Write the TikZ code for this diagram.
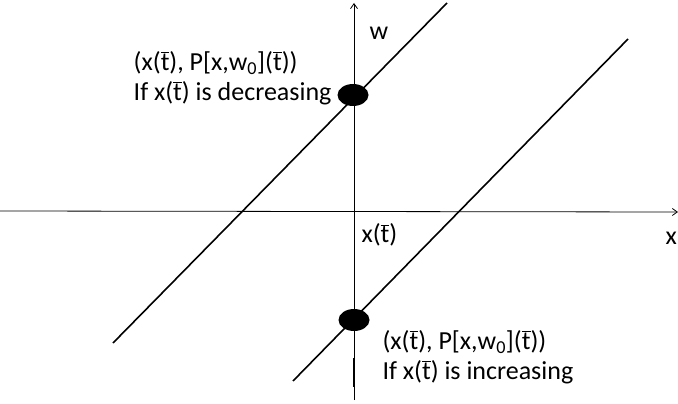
\documentclass[tikz,border=0pt]{standalone}
\usepackage{fontspec}
\setmainfont{Carlito}
\usepackage{tikz}
\usetikzlibrary{arrows.meta,positioning,shapes.geometric}
\newcommand{\tb}{$\overline{\mbox{t}}$}

\begin{document}
\begin{tikzpicture}[x=1pt, y=-1pt, >={Straight Barb[length=5pt,width=7pt]},
  font=\fontsize{26}{30}\selectfont]
\useasboundingbox (0,0) rectangle (678,404);
% axes
\coordinate (xl) at (0,211);
\coordinate (xr) at (678,212);
\coordinate (wb) at (354,400);
\coordinate (wt) at (354,3);
\draw[->, line width=0.8pt] (xl) -- (xr);
\draw[->, line width=0.8pt] (wb) -- (wt);
\draw[line width=1.6pt] (354,358) -- (354,387);

% the two lines
\coordinate (ua) at (113,343);
\coordinate (ub) at (447,3);
\coordinate (la) at (293,381);
\coordinate (lb) at (628,39);
\draw[line width=1.6pt] (ua) -- (ub);
\draw[line width=1.6pt] (la) -- (lb);

% points
\node[ellipse, fill=black, minimum width=31pt, minimum height=22pt,
      inner sep=0pt] (dotup) at (353,95) {};
\node[ellipse, fill=black, minimum width=31pt, minimum height=22pt,
      inner sep=0pt] (dotlow) at (354,320) {};

% labels
\node[anchor=west] (wlab) at (366,33) {w};
\node[anchor=west] (xlab) at (662,238) {x};
\node[anchor=west] (xt) at (358,235) {x(\tb)};
\node[anchor=east, align=left] (declab) at (335,78)
  {(x(\tb), P[x,w\textsubscript{0}](\tb))\\If x(\tb) is decreasing};
\node[anchor=west, align=left] (inclab) at (379,357)
  {(x(\tb), P[x,w\textsubscript{0}](\tb))\\If x(\tb) is increasing};
\end{tikzpicture}
\end{document}
